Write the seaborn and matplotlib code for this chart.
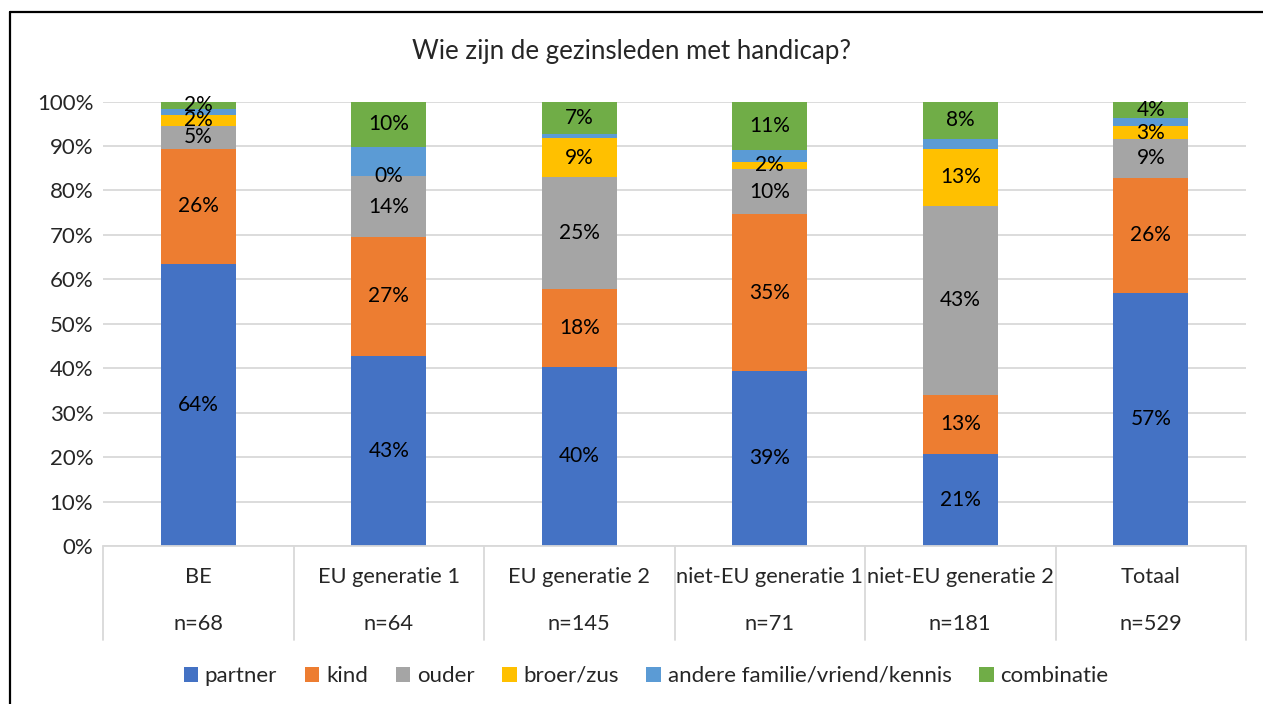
import numpy as np
import pandas as pd
import seaborn as sns
import matplotlib.pyplot as plt
from matplotlib.patches import Patch
from matplotlib.lines import Line2D

# data (percentages)
categories = ['BE', 'EU generatie 1', 'EU generatie 2', 'niet-EU generatie 1',
              'niet-EU generatie 2', 'Totaal']
n_labels = ['n=68', 'n=64', 'n=145', 'n=71', 'n=181', 'n=529']
series = ['partner', 'kind', 'ouder', 'broer/zus', 'andere familie/vriend/kennis', 'combinatie']
partner = [63.5, 42.8, 40.3, 39.4, 20.7, 57.0]
kind = [25.8, 26.7, 17.5, 35.2, 13.3, 25.9]
ouder = [5.3, 13.7, 25.2, 10.2, 42.6, 8.6]
broer_zus = [2.4, 0.0, 8.8, 1.7, 12.8, 3.0]
andere = [1.3, 6.6, 0.9, 2.5, 2.2, 1.7]
combinatie = [1.7, 10.2, 7.3, 11.0, 8.4, 3.8]
show_label = [True, True, True, True, False, True]

colors = ['#4472C4', '#ED7D31', '#A5A5A5', '#FFC000', '#5B9BD5', '#70AD47']

sns.set_style('white')
plt.rcParams['font.family'] = ['Lato', 'DejaVu Sans']

vals = np.array([partner, kind, ouder, broer_zus, andere, combinatie]) / 100
cum = np.cumsum(vals, axis=0)

fig = plt.figure(figsize=(12.63, 7.04), dpi=100)
ax = fig.add_axes([103 / 1263, 158 / 704, 1143 / 1263, 444.5 / 704])

# stacked bars: draw cumulative totals from the top down
for i in range(len(series) - 1, -1, -1):
    sns.barplot(x=categories, y=cum[i], color=colors[i], width=0.394, saturation=1,
                ax=ax, linewidth=0)

# data labels
for i in range(len(series)):
    if not show_label[i]:
        continue
    for j in range(len(categories)):
        mid = cum[i][j] - vals[i][j] / 2
        ax.text(j, mid, f'{round(vals[i][j] * 100):.0f}%', ha='center', va='center',
                fontsize=15, color='black')

ax.set_ylim(0, 1)
ax.set_xlim(-0.5, len(categories) - 0.5)
ax.set_yticks(np.arange(0, 1.01, 0.1))
ax.set_yticklabels([f'{int(t * 100)}%' for t in np.arange(0, 1.01, 0.1)],
                   fontsize=16, color='#262626')
ax.yaxis.grid(True, color='#d9d9d9', linewidth=1.3)
ax.set_axisbelow(True)
ax.set_xticks([])
ax.set_xlabel('')
ax.set_ylabel('')
ax.tick_params(axis='y', length=0, pad=7)
for s in ax.spines.values():
    s.set_visible(False)

# category table below the bars
tr = ax.get_xaxis_transform()
ax.plot([-0.5, len(categories) - 0.5], [0, 0], color='#d9d9d9', lw=1.3,
        transform=tr, clip_on=False)
for k in range(len(categories) + 1):
    ax.plot([k - 0.5, k - 0.5], [0, -0.211], color='#d9d9d9', lw=1.3,
            transform=tr, clip_on=False)
for j in range(len(categories)):
    ax.text(j, -0.0697, categories[j], transform=tr, ha='center', va='center',
            fontsize=15.7, color='#262626')
    ax.text(j, -0.175, n_labels[j], transform=tr, ha='center', va='center',
            fontsize=15.7, color='#262626')

fig.text(632 / 1263, 1 - 52 / 704, 'Wie zijn de gezinsleden met handicap?',
         ha='center', va='center', fontsize=18.6, color='#262626')

handles = [Patch(facecolor=c, edgecolor='none') for c in colors]
fig.legend(handles, series, loc='center', bbox_to_anchor=(646 / 1263, 1 - 676 / 704),
           ncol=6, frameon=False, fontsize=16, handlelength=0.65, handleheight=0.65,
           handletextpad=0.3, columnspacing=1.25)

# outer frame
fig.add_artist(Line2D([10 / 1263, 1], [1 - 12 / 704, 1 - 12 / 704], color='black', lw=1.6))
fig.add_artist(Line2D([10 / 1263, 10 / 1263], [0, 1 - 12 / 704], color='black', lw=1.6))

fig.savefig('out.png', dpi=100)
